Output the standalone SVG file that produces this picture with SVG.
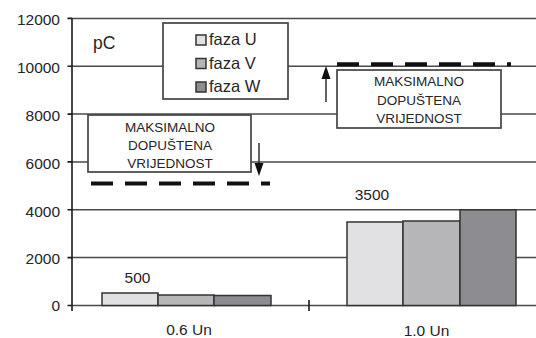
<svg xmlns="http://www.w3.org/2000/svg" width="536" height="338" viewBox="0 0 536 338">
<style>
text{font-family:"Liberation Sans",Arial,sans-serif;fill:#262626}
.ax{font-size:15.5px;text-anchor:end}
.lb{font-size:15.5px;text-anchor:middle}
.lg{font-size:16.5px}
.bx{font-size:13.5px;text-anchor:middle}
.grid{stroke:#4a4a4a;stroke-width:1.5;fill:none}
.axis{stroke:#1a1a1a;stroke-width:1.6;fill:none}
.bar{stroke:#333;stroke-width:1.5}
.u{fill:#e1e1e3}.v{fill:#b6b6b9}.w{fill:#8d8d91}
.box{fill:#fff;stroke:#444;stroke-width:1.7}
.dash{stroke:#111;stroke-width:4;stroke-dasharray:22 12;fill:none}
.arr{stroke:#222;stroke-width:1.4;fill:none}
</style>
<rect width="536" height="338" fill="#fff"/>
<g id="grid">
<path class="grid" d="M72 18.4H536M72 66.2H536M72 114.1H536M72 161.9H536M72 209.8H536M72 257.6H536M72 305.5H536"/>
<path class="axis" d="M72 18V311M67.5 18.4H72M67.5 66.2H72M67.5 114.1H72M67.5 161.9H72M67.5 209.8H72M67.5 257.6H72M67.5 305.5H72M309 300V311"/>
</g>
<g id="y-labels">
<text class="ax" x="60" y="25">12000</text>
<text class="ax" x="60" y="73">10000</text>
<text class="ax" x="60" y="120.5">8000</text>
<text class="ax" x="60" y="168.5">6000</text>
<text class="ax" x="60" y="216.5">4000</text>
<text class="ax" x="60" y="264">2000</text>
<text class="ax" x="60" y="310.5">0</text>
<text x="93" y="49" style="font-size:17.5px">pC</text>
</g>
<g id="bars-06">
<rect class="bar u" x="102" y="293" width="56" height="12.5"/>
<rect class="bar v" x="158" y="295" width="56" height="10.5"/>
<rect class="bar w" x="214" y="295.5" width="57" height="10"/>
<text class="lb" x="137.5" y="283">500</text>
<text class="lb" x="189" y="335">0.6 Un</text>
</g>
<g id="bars-10">
<rect class="bar u" x="347" y="222" width="56" height="83.5"/>
<rect class="bar v" x="403" y="221" width="57" height="84.5"/>
<rect class="bar w" x="460" y="209.8" width="56" height="95.7"/>
<text class="lb" x="372" y="200">3500</text>
<text class="lb" x="426.5" y="336">1.0 Un</text>
</g>
<g id="legend">
<rect class="box" x="163" y="23" width="125" height="76"/>
<rect class="bar u" x="196" y="35" width="10" height="10"/>
<rect class="bar v" x="196" y="58.5" width="10" height="10"/>
<rect class="bar w" x="196" y="82" width="10" height="10"/>
<text class="lg" x="209" y="45">faza U</text>
<text class="lg" x="209" y="68.5">faza V</text>
<text class="lg" x="209" y="92">faza W</text>
</g>
<g id="limit-left">
<rect class="box" x="88" y="115" width="163" height="57"/>
<text class="bx" x="170" y="132">MAKSIMALNO</text>
<text class="bx" x="170" y="150">DOPUŠTENA</text>
<text class="bx" x="170" y="167.5">VRIJEDNOST</text>
</g>
<g id="limit-right">
<rect class="box" x="337" y="70" width="164" height="58"/>
<text class="bx" x="419" y="86">MAKSIMALNO</text>
<text class="bx" x="419" y="105">DOPUŠTENA</text>
<text class="bx" x="419" y="123">VRIJEDNOST</text>
</g>
<g id="connectors">
<path class="dash" d="M91 183.5H270"/>
<path class="dash" d="M337 64.3H511"/>
<path class="arr" d="M259 143V165"/>
<path d="M254.5 163L263.5 163L259 176Z" fill="#111"/>
<path class="arr" d="M326 102V78"/>
<path d="M321.5 79L330.5 79L326 66Z" fill="#111"/>
</g>
</svg>
